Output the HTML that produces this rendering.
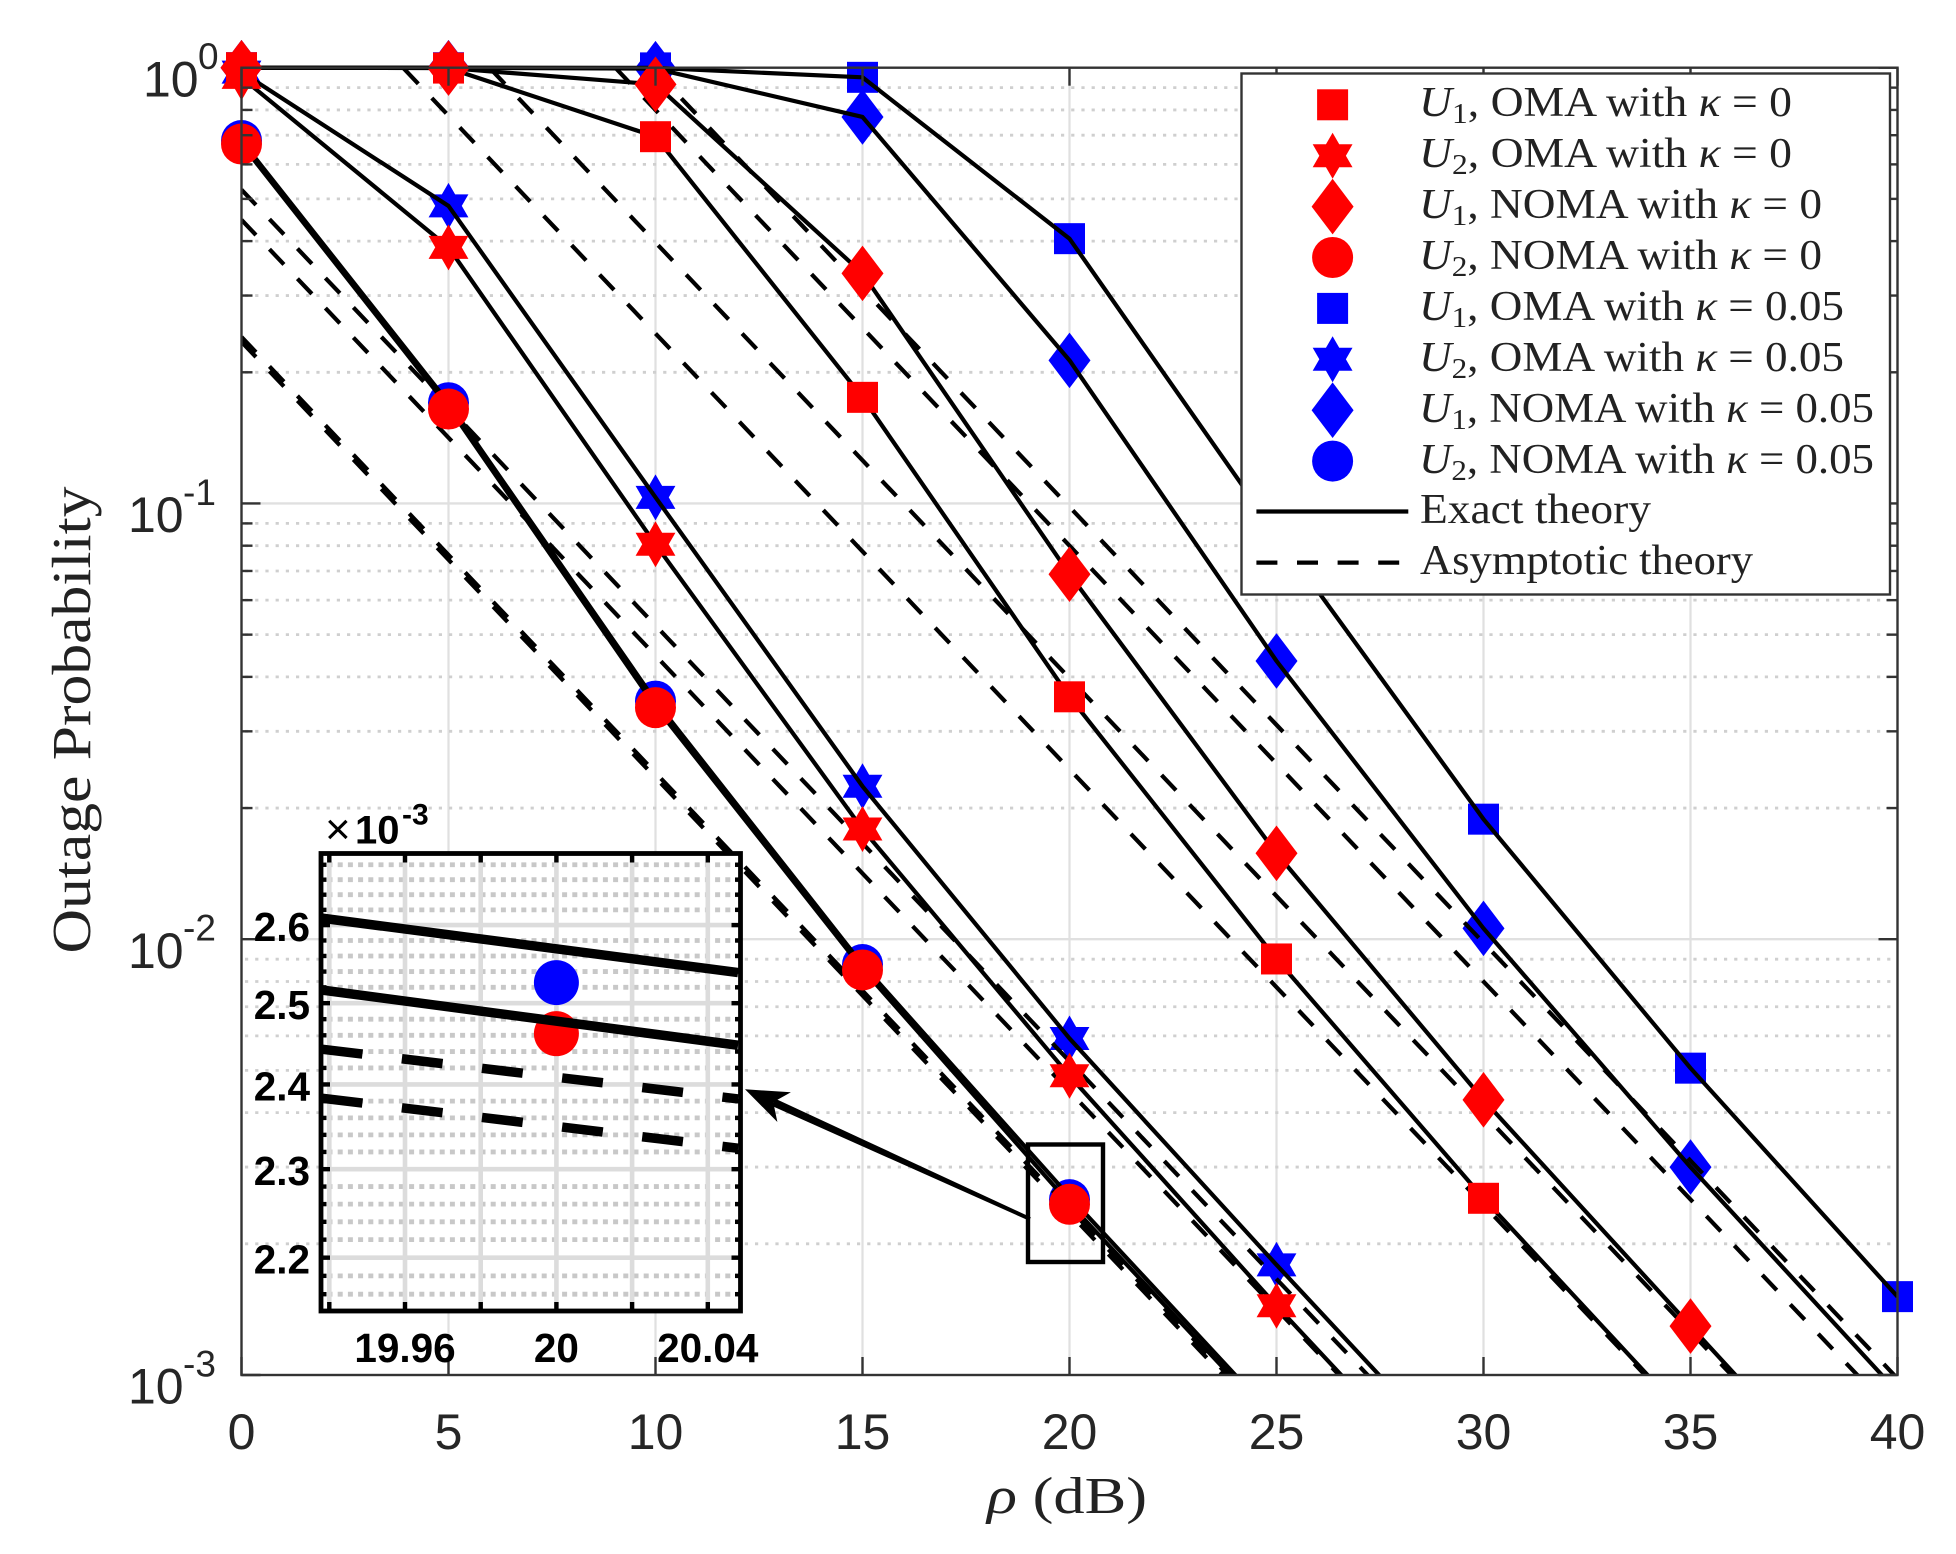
<!DOCTYPE html>
<html lang="en">
<head>
<meta charset="utf-8">
<title>Outage Probability vs SNR</title>
<style>
html,body{margin:0;padding:0;background:#fff;overflow:hidden;width:1956px;height:1554px;}
svg{display:block;}
.serif{font-family:"Liberation Serif",serif;fill:#222;}
.sans{font-family:"Liberation Sans",sans-serif;}
</style>
</head>
<body>
<svg id="chart" xmlns="http://www.w3.org/2000/svg" width="1956" height="1554" viewBox="0 0 1956 1554">
  <rect x="0" y="0" width="1956" height="1554" fill="#fff"/>
  <defs>
    <clipPath id="plot-clip"><rect x="241.5" y="65.5" width="1656" height="1310"/></clipPath>
    <clipPath id="inset-clip"><rect x="321" y="853.5" width="419.5" height="457.5"/></clipPath>
  </defs>
  <g id="grid"></g>
  <g id="markers-blue"></g>
  <g id="lines" clip-path="url(#plot-clip)"></g>
  <g id="markers-red"></g>
  <g id="axes"></g>
  <g id="callout"></g>

  <g id="inset">
    <rect x="321" y="853.5" width="419.5" height="457.5" fill="#fff"/>
    <g id="inset-grid" clip-path="url(#inset-clip)"></g>
    <g id="inset-marks" clip-path="url(#inset-clip)"></g>
    <g id="inset-axes"></g>
    <text x="325" y="844" class="sans" font-size="44" fill="#000">×</text>
    <text x="355" y="843.6" class="sans" font-size="40" font-weight="bold" fill="#000">10</text>
    <text x="402" y="824.4" class="sans" font-size="30" font-weight="bold" fill="#000">-3</text>
  </g>

  <g id="legend">
    <rect x="1241.5" y="73.5" width="648.5" height="521" fill="#fff" stroke="#333" stroke-width="2.4"/>
    <g id="legend-symbols"></g>
    <g class="serif" font-size="42" fill="#222">
      <text x="1419" y="116" textLength="373" lengthAdjust="spacingAndGlyphs"><tspan font-style="italic">U</tspan><tspan font-size="29" dy="7">1</tspan><tspan dy="-7">, OMA with </tspan><tspan font-style="italic">κ</tspan> = 0</text>
      <text x="1419" y="167" textLength="373" lengthAdjust="spacingAndGlyphs"><tspan font-style="italic">U</tspan><tspan font-size="29" dy="7">2</tspan><tspan dy="-7">, OMA with </tspan><tspan font-style="italic">κ</tspan> = 0</text>
      <text x="1419" y="218" textLength="403" lengthAdjust="spacingAndGlyphs"><tspan font-style="italic">U</tspan><tspan font-size="29" dy="7">1</tspan><tspan dy="-7">, NOMA with </tspan><tspan font-style="italic">κ</tspan> = 0</text>
      <text x="1419" y="269" textLength="403" lengthAdjust="spacingAndGlyphs"><tspan font-style="italic">U</tspan><tspan font-size="29" dy="7">2</tspan><tspan dy="-7">, NOMA with </tspan><tspan font-style="italic">κ</tspan> = 0</text>
      <text x="1419" y="320" textLength="425" lengthAdjust="spacingAndGlyphs"><tspan font-style="italic">U</tspan><tspan font-size="29" dy="7">1</tspan><tspan dy="-7">, OMA with </tspan><tspan font-style="italic">κ</tspan> = 0.05</text>
      <text x="1419" y="371" textLength="425" lengthAdjust="spacingAndGlyphs"><tspan font-style="italic">U</tspan><tspan font-size="29" dy="7">2</tspan><tspan dy="-7">, OMA with </tspan><tspan font-style="italic">κ</tspan> = 0.05</text>
      <text x="1419" y="422" textLength="455" lengthAdjust="spacingAndGlyphs"><tspan font-style="italic">U</tspan><tspan font-size="29" dy="7">1</tspan><tspan dy="-7">, NOMA with </tspan><tspan font-style="italic">κ</tspan> = 0.05</text>
      <text x="1419" y="473" textLength="455" lengthAdjust="spacingAndGlyphs"><tspan font-style="italic">U</tspan><tspan font-size="29" dy="7">2</tspan><tspan dy="-7">, NOMA with </tspan><tspan font-style="italic">κ</tspan> = 0.05</text>
      <text x="1420" y="523" textLength="231" lengthAdjust="spacingAndGlyphs">Exact theory</text>
      <text x="1420" y="574" textLength="333" lengthAdjust="spacingAndGlyphs">Asymptotic theory</text>
    </g>
  </g>

  <text x="1067" y="1513" text-anchor="middle" class="serif" font-size="52" textLength="160" lengthAdjust="spacingAndGlyphs"><tspan font-style="italic">ρ</tspan> (dB)</text>
  <text transform="translate(90,720) rotate(-90)" text-anchor="middle" class="serif" font-size="55" textLength="467" lengthAdjust="spacingAndGlyphs">Outage Probability</text>
</svg>

<script>
// ---------- data: main plot ----------
const rho = [0, 5, 10, 15, 20, 25, 30, 35, 40];
const xTickLabels = ['0', '5', '10', '15', '20', '25', '30', '35', '40'];
const yExponents = [0, -1, -2, -3];

const u1OmaK0    = [1, 0.998, 0.6945, 0.1752, 0.0360, 0.00901, 0.002544, 0.000783, 0.000248];
const u2OmaK0    = [0.95, 0.387, 0.0806, 0.0179, 0.00486, 0.001442, 0.000447, 0.000142, 0.000045];
const u1NomaK0   = [1, 0.998, 0.9158, 0.3373, 0.0688, 0.01575, 0.00428, 0.001295, 0.000394];
const u2NomaK0   = [0.668, 0.1647, 0.0340, 0.0085, 0.002465, 0.00077, 0.000243, 0.000077, 0.000024];
const u1OmaK005  = [1, 1, 0.999, 0.9504, 0.4052, 0.0850, 0.01886, 0.00506, 0.001513];
const u2OmaK005  = [0.977, 0.4817, 0.1033, 0.02244, 0.00592, 0.00179, 0.000553, 0.000175, 0.000055];
const u1NomaK005 = [1, 1, 0.995, 0.7708, 0.2130, 0.0435, 0.01059, 0.0030, 0.000914];
const u2NomaK005 = [0.6805, 0.1703, 0.0352, 0.00875, 0.002526, 0.00079, 0.00025, 0.000079, 0.000025];

const exactU2NomaK0   = [0.668, 0.1665, 0.0342, 0.00855, 0.002476, 0.000769, 0.000243, 0.000077, 0.000024];
const exactU2NomaK005 = [0.6805, 0.1703, 0.0352, 0.00875, 0.002568, 0.000791, 0.00025, 0.000079, 0.000025];

const asymU1OmaK0    = [2.455, 0.7763, 0.2455, 0.07763, 0.02455, 0.007763, 0.002455, 0.0007763, 0.0002455];
const asymU1NomaK0   = [3.972, 1.256, 0.3972, 0.1256, 0.03972, 0.01256, 0.003972, 0.001256, 0.0003972];
const asymU1OmaK005  = [9.817, 3.104, 0.9817, 0.3104, 0.09817, 0.03104, 0.009817, 0.003104, 0.0009817];
const asymU1NomaK005 = [7.998, 2.529, 0.7998, 0.2529, 0.07998, 0.02529, 0.007998, 0.002529, 0.0007998];
const asymU2OmaK005  = [0.5248, 0.1660, 0.05248, 0.0166, 0.005248, 0.00166, 0.0005248, 0.000166, 0.00005248];
const asymU2OmaK0    = [0.4477, 0.1416, 0.04477, 0.01416, 0.004477, 0.001416, 0.0004477, 0.0001416, 0.00004477];
const asymU2NomaK005 = [0.2410, 0.0762, 0.0241, 0.00762, 0.00241, 0.000762, 0.000241, 0.0000762, 0.0000241];
const asymU2NomaK0   = [0.2350, 0.0743, 0.0235, 0.00743, 0.00235, 0.000743, 0.000235, 0.0000743, 0.0000235];

// ---------- data: inset ----------
const insetXTicks = [19.94, 19.96, 19.98, 20, 20.02, 20.04];
const insetXLabels = ['', '19.96', '', '20', '', '20.04'];
const insetYMajor = [2.2, 2.3, 2.4, 2.5, 2.6];
const insetYLabels = ['2.2', '2.3', '2.4', '2.5', '2.6'];
const insetYMinor = [2.16, 2.18, 2.22, 2.24, 2.26, 2.28, 2.32, 2.34, 2.36, 2.38, 2.42, 2.44, 2.46, 2.48, 2.52, 2.54, 2.56, 2.58, 2.62, 2.64, 2.66, 2.68];
const insetRho = [19.938, 20.048];
const insetExactUpper = [2.6091, 2.5387];
const insetExactLower = [2.5166, 2.4477];
const insetAsymUpper = [2.4429, 2.3826];
const insetAsymLower = [2.3835, 2.3243];
const insetMarkerRho = [20];
const insetBlueCircle = [2.526];
const insetRedCircle = [2.462];

// ---------- axis functions ----------
const X0 = 241.5, X1 = 1897.5, Y0 = 67.7, Y1 = 1375;
const xScale = v => X0 + (v / 40) * (X1 - X0);
const yScale = v => Y0 - Math.log10(v) * (Y1 - Y0) / 3;
const ixScale = v => 556.4 + (v - 20) * 3785;
const iyScale = v => 925.1 + (Math.log10(2.6) - Math.log10(v)) * 4584;

const NS = 'http://www.w3.org/2000/svg';
function make(tag, attrs, parent) {
  const n = document.createElementNS(NS, tag);
  for (const k in attrs) n.setAttribute(k, attrs[k]);
  parent.appendChild(n);
  return n;
}
function drawMarker(shape, color, cx, cy, parent) {
  if (shape === 'square') {
    return make('rect', {x: cx - 15.5, y: cy - 15.5, width: 31, height: 31, fill: color}, parent);
  }
  if (shape === 'circle') {
    return make('circle', {cx: cx, cy: cy, r: 20.5, fill: color}, parent);
  }
  if (shape === 'diamond') {
    return make('polygon', {points: [cx, cy - 27.8, cx + 21, cy, cx, cy + 27.8, cx - 21, cy].join(' '), fill: color}, parent);
  }
  const R = 23, r = R / Math.sqrt(3), pts = [];
  for (let i = 0; i < 12; i++) {
    const a = -Math.PI / 2 + i * Math.PI / 6, q = i % 2 ? r : R;
    pts.push(cx + q * Math.cos(a), cy + q * Math.sin(a));
  }
  return make('polygon', {points: pts.join(' '), fill: color}, parent);
}
const pathOf = (xs, ys, fx, fy) => xs.map((x, i) => fx(x).toFixed(2) + ',' + fy(ys[i]).toFixed(2)).join(' ');
// Stops a main-plot polyline just below the lower y limit so nothing extends off the frame.
function mainLinePoints(xs, ys) {
  const out = [];
  const floorY = Y1 + 3;
  for (let i = 0; i < xs.length; i++) {
    const px = xScale(xs[i]), py = yScale(ys[i]);
    if (py <= floorY) {
      out.push(px.toFixed(2) + ',' + py.toFixed(2));
      continue;
    }
    if (i > 0) {
      const qx = xScale(xs[i - 1]), qy = yScale(ys[i - 1]);
      const t = (floorY - qy) / (py - qy);
      out.push((qx + t * (px - qx)).toFixed(2) + ',' + floorY.toFixed(2));
    }
    break;
  }
  return out.join(' ');
}

// ---------- main grid ----------
const gridG = document.getElementById('grid');
for (let i = 1; i < rho.length - 1; i++) {
  const gl = make('line', {x1: xScale(rho[i]), x2: xScale(rho[i]), y1: Y0, y2: Y1, stroke: '#e0e0e0', 'stroke-width': 2.2}, gridG);
  
  
}
for (let e = 0; e > -3; e--) {
  for (let m = 1; m < 10; m++) {
    const v = m * Math.pow(10, e - 1);
    const major = m === 1;
    if (major && e === -2) continue;
    const gl = make('line', {x1: X0, x2: X1, y1: yScale(v), y2: yScale(v),
      stroke: major ? '#e0e0e0' : '#cfcfcf', 'stroke-width': major ? 2.4 : 2.8,
      'stroke-dasharray': major ? 'none' : '3.2 7', 'stroke-dashoffset': major ? 0 : -3.5}, gridG);
    
    
  }
}

// ---------- markers ----------
const blueG = document.getElementById('markers-blue');
const redG = document.getElementById('markers-red');
const markerSets = [
  {g: blueG, color: '#0000ff', shape: 'square',  vals: u1OmaK005,  name: 'marker-u1-oma-k005'},
  {g: blueG, color: '#0000ff', shape: 'star',    vals: u2OmaK005,  name: 'marker-u2-oma-k005'},
  {g: blueG, color: '#0000ff', shape: 'diamond', vals: u1NomaK005, name: 'marker-u1-noma-k005'},
  {g: blueG, color: '#0000ff', shape: 'circle',  vals: u2NomaK005, name: 'marker-u2-noma-k005'},
  {g: redG,  color: '#ff0000', shape: 'square',  vals: u1OmaK0,    name: 'marker-u1-oma-k0'},
  {g: redG,  color: '#ff0000', shape: 'star',    vals: u2OmaK0,    name: 'marker-u2-oma-k0'},
  {g: redG,  color: '#ff0000', shape: 'diamond', vals: u1NomaK0,   name: 'marker-u1-noma-k0'},
  {g: redG,  color: '#ff0000', shape: 'circle',  vals: u2NomaK0,   name: 'marker-u2-noma-k0'}
];
markerSets.forEach(s => {
  s.vals.forEach((v, i) => {
    if (v < 1e-3) return;
    const mk = drawMarker(s.shape, s.color, xScale(rho[i]), yScale(v), s.g);
    
    
  });
});

// ---------- lines ----------
const linesG = document.getElementById('lines');
const exactSeries = [
  {vals: u1OmaK0, name: 'exact-line-u1-oma-k0'},
  {vals: u2OmaK0, name: 'exact-line-u2-oma-k0'},
  {vals: u1NomaK0, name: 'exact-line-u1-noma-k0'},
  {vals: exactU2NomaK0, name: 'exact-line-u2-noma-k0'},
  {vals: u1OmaK005, name: 'exact-line-u1-oma-k005'},
  {vals: u2OmaK005, name: 'exact-line-u2-oma-k005'},
  {vals: u1NomaK005, name: 'exact-line-u1-noma-k005'},
  {vals: exactU2NomaK005, name: 'exact-line-u2-noma-k005'}
];
exactSeries.forEach(s => {
  const pl = make('polyline', {points: mainLinePoints(rho, s.vals), fill: 'none', stroke: '#000', 'stroke-width': 4.2, 'stroke-linejoin': 'round'}, linesG);
  
  
});
const asymSeries = [
  {vals: asymU1OmaK0, phase: 7.9, name: 'asymptote-u1-oma-k0'},
  {vals: asymU1NomaK0, phase: 4, name: 'asymptote-u1-noma-k0'},
  {vals: asymU1OmaK005, phase: 11, name: 'asymptote-u1-oma-k005'},
  {vals: asymU1NomaK005, phase: 25, name: 'asymptote-u1-noma-k005'},
  {vals: asymU2OmaK005, phase: 0, name: 'asymptote-u2-oma-k005'},
  {vals: asymU2OmaK0, phase: 0, name: 'asymptote-u2-oma-k0'},
  {vals: asymU2NomaK005, phase: 0, name: 'asymptote-u2-noma-k005'},
  {vals: asymU2NomaK0, phase: 0, name: 'asymptote-u2-noma-k0'}
];
asymSeries.forEach(s => {
  const pl = make('polyline', {points: mainLinePoints(rho, s.vals), fill: 'none', stroke: '#000', 'stroke-width': 4.2,
    'stroke-dasharray': '21 19.6', 'stroke-dashoffset': s.phase}, linesG);
  
  
});

// ---------- axes ----------
const axesG = document.getElementById('axes');
const axisColor = '#333';
const box = make('rect', {x: X0, y: Y0, width: X1 - X0, height: Y1 - Y0, fill: 'none', stroke: axisColor, 'stroke-width': 2.4}, axesG);


rho.forEach((v, i) => {
  const x = xScale(v);
  const t1 = make('line', {x1: x, x2: x, y1: Y1, y2: Y1 - 18, stroke: axisColor, 'stroke-width': 2.4}, axesG);
  
  
  const t2 = make('line', {x1: x, x2: x, y1: Y0, y2: Y0 + 18, stroke: axisColor, 'stroke-width': 2.4}, axesG);
  
  
  const lb = make('text', {x: x, y: 1449, 'text-anchor': 'middle', 'font-size': 50, fill: '#262626', class: 'sans'}, axesG);
  lb.textContent = xTickLabels[i];
  
  
});
for (let e = 0; e >= -3; e--) {
  for (let m = 1; m < 10; m++) {
    if (e === -3 && m > 1) continue;
    const v = m * Math.pow(10, e);
    if (v > 1) continue;
    const len = m === 1 ? 19 : 11;
    const y = yScale(v);
    const tl = make('line', {x1: X0, x2: X0 + len, y1: y, y2: y, stroke: axisColor, 'stroke-width': 2.4}, axesG);
    
    
    const tr = make('line', {x1: X1, x2: X1 - len, y1: y, y2: y, stroke: axisColor, 'stroke-width': 2.4}, axesG);
    
    
  }
}
yExponents.forEach(e => {
  const y = yScale(Math.pow(10, e));
  const baseX = e === 0 ? 143 : 128;
  const supX = e === 0 ? 198 : 183;
  const b = make('text', {x: baseX, y: y + 28.7, 'font-size': 50, fill: '#262626', class: 'sans'}, axesG);
  b.textContent = '10';
  
  
  const p = make('text', {x: supX, y: y + 1.5, 'font-size': 37, fill: '#262626', class: 'sans'}, axesG);
  p.textContent = String(e);
  
  
});

// ---------- callout ----------
const calloutG = document.getElementById('callout');
const zoomRect = make('rect', {x: 1028, y: 1144.5, width: 75, height: 117.5, fill: 'none', stroke: '#000', 'stroke-width': 4.4}, calloutG);


const tip = [745, 1089.3], tail = [1030, 1219];
const L = Math.hypot(tail[0] - tip[0], tail[1] - tip[1]);
const ux = (tail[0] - tip[0]) / L, uy = (tail[1] - tip[1]) / L;
const at = (a, p) => [tip[0] + ux * a - uy * p, tip[1] + uy * a + ux * p];
const shaft = make('polygon', {points: [at(31, 4), at(L, 1.9), at(L, -1.9), at(31, -4)].map(p => p.join(',')).join(' '), fill: '#000'}, calloutG);


const head = make('polygon', {points: [tip, at(43, 16.3), at(31, 0), at(43, -16.3)].map(p => p.join(',')).join(' '), fill: '#000'}, calloutG);



// ---------- inset ----------
const iGrid = document.getElementById('inset-grid');
const iMarks = document.getElementById('inset-marks');
const iAxes = document.getElementById('inset-axes');
const IL = 321, IR = 740.5, IT = 853.5, IB = 1311;
insetYMinor.forEach(v => {
  const l = make('line', {x1: IL, x2: IR, y1: iyScale(v), y2: iyScale(v), stroke: '#c8c8c8', 'stroke-width': 4.8, 'stroke-dasharray': '5 5.2', 'stroke-dashoffset': 3.7}, iGrid);
  
  
});
insetYMajor.forEach(v => {
  const l = make('line', {x1: IL, x2: IR, y1: iyScale(v), y2: iyScale(v), stroke: '#dcdcdc', 'stroke-width': 4.6}, iGrid);
  
  
});
insetXTicks.forEach(v => {
  const l = make('line', {x1: ixScale(v), x2: ixScale(v), y1: IT, y2: IB, stroke: '#dcdcdc', 'stroke-width': 4.6}, iGrid);
  
  
});
const ib = make('circle', {cx: ixScale(insetMarkerRho[0]), cy: iyScale(insetBlueCircle[0]), r: 22.5, fill: '#0000ff'}, iMarks);


const ir = make('circle', {cx: ixScale(insetMarkerRho[0]), cy: iyScale(insetRedCircle[0]), r: 22.5, fill: '#ff0000'}, iMarks);


[[insetExactUpper, 'inset-exact-upper'], [insetExactLower, 'inset-exact-lower']].forEach(s => {
  const pl = make('polyline', {points: pathOf(insetRho, s[0], ixScale, iyScale), fill: 'none', stroke: '#000', 'stroke-width': 9.5}, iMarks);
  
  
});
[[insetAsymUpper, 'inset-asymptote-upper'], [insetAsymLower, 'inset-asymptote-lower']].forEach(s => {
  const pl = make('polyline', {points: pathOf(insetRho, s[0], ixScale, iyScale), fill: 'none', stroke: '#000', 'stroke-width': 9.5, 'stroke-dasharray': '41 39.7'}, iMarks);
  
  
});
const iBox = make('rect', {x: IL, y: IT, width: IR - IL, height: IB - IT, fill: 'none', stroke: '#000', 'stroke-width': 4.8}, iAxes);


insetXTicks.forEach((v, i) => {
  const x = ixScale(v);
  const a = make('line', {x1: x, x2: x, y1: IB, y2: IB - 9, stroke: '#000', 'stroke-width': 4.4}, iAxes);
  
  
  const c = make('line', {x1: x, x2: x, y1: IT, y2: IT + 9, stroke: '#000', 'stroke-width': 4.4}, iAxes);
  
  
  if (insetXLabels[i]) {
    const t = make('text', {x: x, y: 1362, 'text-anchor': 'middle', 'font-size': 40.5, 'font-weight': 'bold', fill: '#000', class: 'sans'}, iAxes);
    t.textContent = insetXLabels[i];
    
    
  }
});
insetYMajor.forEach((v, i) => {
  const y = iyScale(v);
  const a = make('line', {x1: IL, x2: IL + 9, y1: y, y2: y, stroke: '#000', 'stroke-width': 4.4}, iAxes);
  
  
  const b = make('line', {x1: IR, x2: IR - 9, y1: y, y2: y, stroke: '#000', 'stroke-width': 4.4}, iAxes);
  
  
  const t = make('text', {x: 310, y: y + 16, 'text-anchor': 'end', 'font-size': 40.5, 'font-weight': 'bold', fill: '#000', class: 'sans'}, iAxes);
  t.textContent = insetYLabels[i];
  
  
});
insetYMinor.forEach(v => {
  const y = iyScale(v);
  const a = make('line', {x1: IL, x2: IL + 5.5, y1: y, y2: y, stroke: '#000', 'stroke-width': 4.4}, iAxes);
  
  
  const b = make('line', {x1: IR, x2: IR - 5.5, y1: y, y2: y, stroke: '#000', 'stroke-width': 4.4}, iAxes);
  
  
});

// ---------- legend symbols ----------
const legG = document.getElementById('legend-symbols');
const legX = 1332.6;
const legShapes = ['square', 'star', 'diamond', 'circle', 'square', 'star', 'diamond', 'circle'];
const legColors = ['#ff0000', '#ff0000', '#ff0000', '#ff0000', '#0000ff', '#0000ff', '#0000ff', '#0000ff'];
legShapes.forEach((s, i) => {
  const mk = drawMarker(s, legColors[i], legX, 104.8 + i * 50.9, legG);
  
  
});
const legSolid = make('line', {x1: 1256.4, x2: 1408.3, y1: 511.5, y2: 511.5, stroke: '#000', 'stroke-width': 4.2}, legG);


const legDash = make('line', {x1: 1256.4, x2: 1400, y1: 562.6, y2: 562.6, stroke: '#000', 'stroke-width': 4.2, 'stroke-dasharray': '21 19.6'}, legG);


</script>
</body>
</html>
